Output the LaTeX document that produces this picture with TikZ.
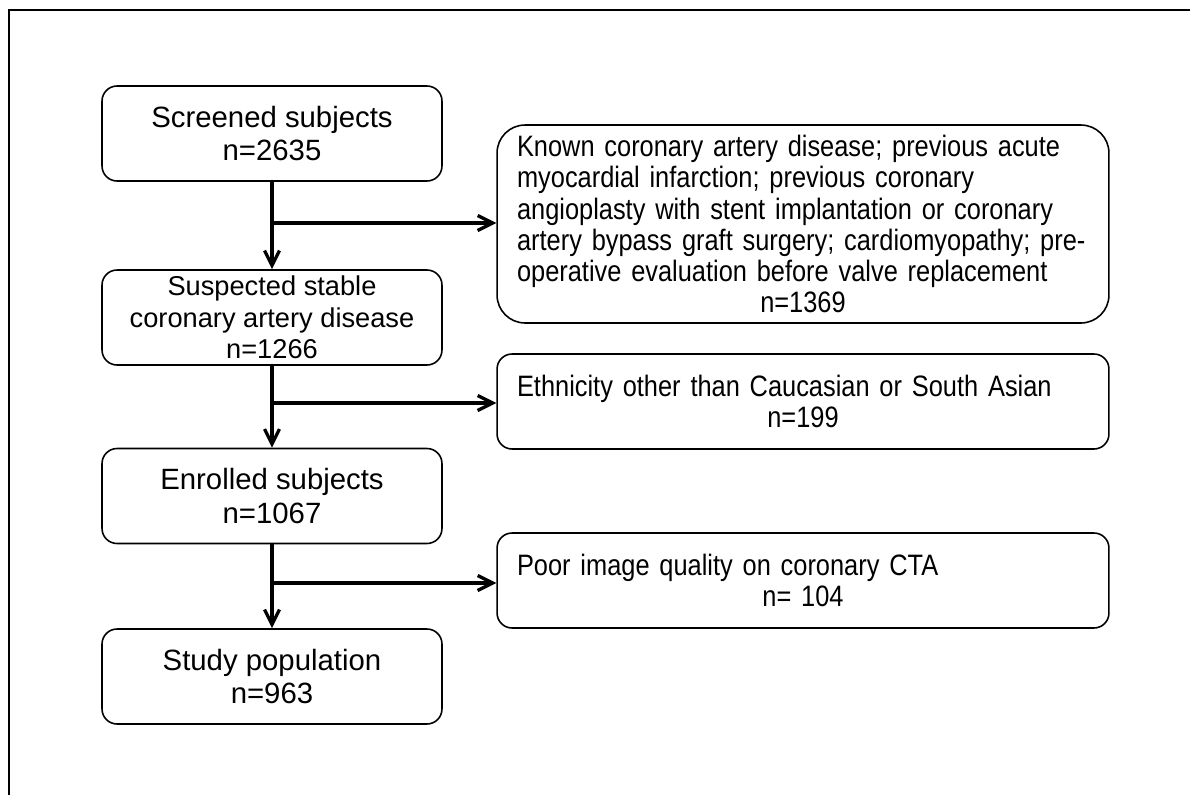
\documentclass[tikz,border=0pt]{standalone}
\usepackage{fontspec}
\setmainfont{Liberation Sans}
\newfontfamily\narrowsans[FakeStretch=0.86]{Liberation Sans}
\usetikzlibrary{arrows.meta,calc}

\tikzset{
  stage/.style={draw=black, line width=0.9pt, rounded corners=0.3cm,
    minimum width=6.8cm, minimum height=1.9cm, inner sep=0pt,
    align=center, font=\fontsize{16.7}{19.3}\selectfont},
  excl/.style={draw=black, line width=0.9pt, rounded corners=0.3cm,
    minimum width=12.24cm, minimum height=1.9cm, inner sep=0pt,
    text width=11.44cm, align=left,
    font=\narrowsans\fontsize{16.8}{17.7}\selectfont},
  conn/.style={line width=1.9pt, -{Straight Barb[length=8.5pt,width=8.5pt,line width=1.9pt]}},
  frame/.style={line width=1.5pt}
}

\begin{document}
\begin{tikzpicture}[x=0.02cm, y=-0.02cm]
  \useasboundingbox (0,0) rectangle (1190,795);

  % outer frame (top and left edges)
  \draw[frame] (9,795) -- (9,10) -- (1190,10);

  % main flow
  \node[stage] (s1) at (272,133.5) {Screened subjects\\n=2635};
  \node[stage, font=\fontsize{15.5}{18}\selectfont] (s2) at (272,317.5)
    {Suspected stable\\coronary artery disease\\n=1266};
  \node[stage] (s3) at (272,496) {Enrolled subjects\\n=1067};
  \node[stage] (s4) at (272,676.5) {Study population\\n=963};

  % exclusions
  \node[excl, minimum height=3.96cm, rounded corners=0.56cm] (r1) at (803,224)
    {\mbox{Known coronary artery disease; previous acute}\\
     \mbox{myocardial infarction; previous coronary}\\
     \mbox{angioplasty with stent implantation or coronary}\\
     \mbox{artery bypass graft surgery; cardiomyopathy; pre-}\\
     \mbox{operative evaluation before valve replacement}\par
     \centering n=1369\par};
  \node[excl] (r2) at (803,401.5)
    {\mbox{Ethnicity other than Caucasian or South Asian}\par
     \centering n=199\par};
  \node[excl] (r3) at (803,580.5)
    {\mbox{Poor image quality on coronary CTA}\par
     \centering n= 104\par};

  % branch points
  \coordinate (j1) at (272,223);
  \coordinate (j2) at (272,403);
  \coordinate (j3) at (272,583);

  % connectors
  \draw[conn] (s1) -- (s2);
  \draw[conn] (s2) -- (s3);
  \draw[conn] (s3) -- (s4);
  \draw[conn] (j1) -- (j1 -| r1.west);
  \draw[conn] (j2) -- (j2 -| r2.west);
  \draw[conn] (j3) -- (j3 -| r3.west);
\end{tikzpicture}
\end{document}
